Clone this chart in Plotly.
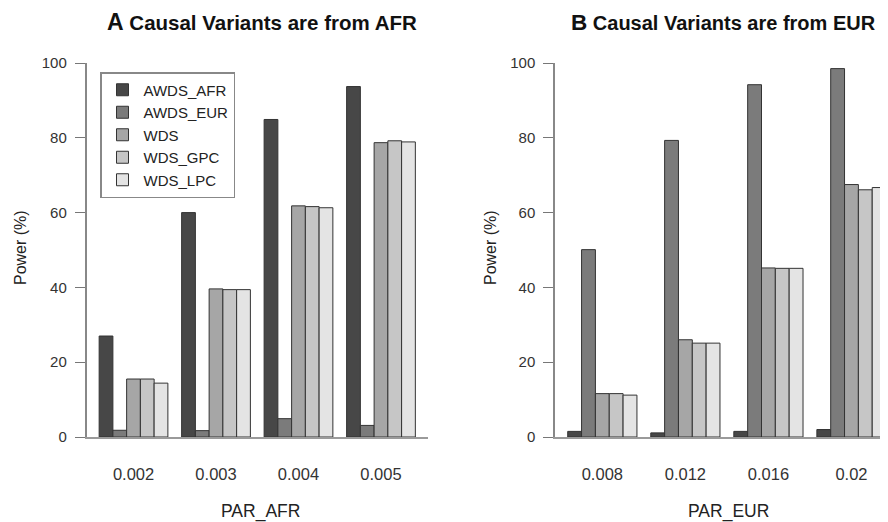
import plotly.graph_objects as go

# ---- data ----
series_names = ["AWDS_AFR", "AWDS_EUR", "WDS", "WDS_GPC", "WDS_LPC"]
series_colors = ["#474747", "#7b7b7b", "#a6a6a6", "#c6c6c6", "#e4e4e4"]

par_afr = ["0.002", "0.003", "0.004", "0.005"]
afr_awds_afr = [27.0, 60.0, 84.9, 93.7]
afr_awds_eur = [1.8, 1.7, 4.9, 3.1]
afr_wds = [15.5, 39.6, 61.8, 78.7]
afr_wds_gpc = [15.5, 39.4, 61.6, 79.2]
afr_wds_lpc = [14.4, 39.4, 61.3, 78.9]

par_eur = ["0.008", "0.012", "0.016", "0.02"]
eur_awds_afr = [1.5, 1.1, 1.5, 2.0]
eur_awds_eur = [50.1, 79.3, 94.2, 98.5]
eur_wds = [11.6, 26.0, 45.2, 67.5]
eur_wds_gpc = [11.6, 25.1, 45.1, 66.1]
eur_wds_lpc = [11.2, 25.1, 45.1, 66.7]

afr_series = [afr_awds_afr, afr_awds_eur, afr_wds, afr_wds_gpc, afr_wds_lpc]
eur_series = [eur_awds_afr, eur_awds_eur, eur_wds, eur_wds_gpc, eur_wds_lpc]

# page body has an 8px margin: size the figure to fill the visible window
OX, OY = 8, 8
FW, FH = 888 - OX, 522 - OY


def px(X):
    return (X - OX) / FW


def py(Y):
    return 1 - (Y - OY) / FH


FONT = "Liberation Sans, Arial, sans-serif"

fig = go.Figure()
for name, col, vals in zip(series_names, series_colors, afr_series):
    fig.add_trace(go.Bar(x=par_afr, y=vals, name=name, xaxis="x", yaxis="y",
                         marker=dict(color=col, line=dict(color="#333333", width=1)),
                         showlegend=True))
for name, col, vals in zip(series_names, series_colors, eur_series):
    fig.add_trace(go.Bar(x=par_eur, y=vals, name=name, xaxis="x2", yaxis="y2",
                         marker=dict(color=col, line=dict(color="#333333", width=1)),
                         showlegend=False))

yax = dict(range=[0, 100], tickvals=[0, 20, 40, 60, 80, 100], ticks="outside",
           ticklen=10, tickcolor="#777777", tickwidth=1.3, showline=True,
           linecolor="#888888", linewidth=1.5, showgrid=False, zeroline=False,
           automargin=False,
           tickfont=dict(size=15, color="#333333", family=FONT),
           ticklabelstandoff=5, domain=[py(437), py(63)])
xax = dict(type="category", ticks="", showline=True, linecolor="#9a9a9a",
           linewidth=2, showgrid=False, zeroline=False, automargin=False,
           tickfont=dict(size=16.5, color="#333333", family=FONT),
           ticklabelstandoff=21)

fig.update_layout(
    width=FW, height=FH,
    margin=dict(l=0, r=0, t=0, b=0, autoexpand=False),
    paper_bgcolor="white", plot_bgcolor="white",
    barmode="group", bargap=1/6, bargroupgap=0,
    font=dict(family=FONT, color="#222222"),
    xaxis=dict(xax, domain=[px(86.5), px(428)], range=[-0.57, 3.57], anchor="y"),
    yaxis=dict(yax, anchor="x"),
    xaxis2=dict(xax, domain=[px(555), 1.0], range=[-0.57, 3.44], anchor="y2"),
    yaxis2=dict(yax, anchor="x2"),
    legend=dict(x=px(100), y=py(72), xanchor="left", yanchor="top",
                bordercolor="#888888", borderwidth=1.5, bgcolor="white",
                font=dict(size=15, color="#222222", family=FONT),
                itemwidth=32, tracegroupgap=0),
    annotations=[
        dict(text="<span style='font-size:23px'><b>A</b></span> <b>Causal Variants are from AFR</b>",
             x=px(262), y=py(22), xref="paper", yref="paper", showarrow=False,
             font=dict(size=20.5, color="#111111", family=FONT), xanchor="center", yanchor="middle"),
        dict(text="<span style='font-size:22.5px'><b>B</b></span> <b>Causal Variants are from EUR</b>",
             x=px(723), y=py(22), xref="paper", yref="paper", showarrow=False,
             font=dict(size=20, color="#111111", family=FONT), xanchor="center", yanchor="middle"),
        dict(text="PAR_AFR", x=px(260), y=py(511), xref="paper", yref="paper",
             showarrow=False, font=dict(size=17.5, color="#222222", family=FONT),
             xanchor="center", yanchor="middle"),
        dict(text="PAR_EUR", x=px(728), y=py(511), xref="paper", yref="paper",
             showarrow=False, font=dict(size=17.5, color="#222222", family=FONT),
             xanchor="center", yanchor="middle"),
        dict(text="Power (%)", x=px(20), y=py(248), xref="paper", yref="paper",
             showarrow=False, textangle=-90, font=dict(size=16, color="#222222", family=FONT),
             xanchor="center", yanchor="middle"),
        dict(text="Power (%)", x=px(490), y=py(248), xref="paper", yref="paper",
             showarrow=False, textangle=-90, font=dict(size=16, color="#222222", family=FONT),
             xanchor="center", yanchor="middle"),
    ],
)

fig.write_html("out.html")
